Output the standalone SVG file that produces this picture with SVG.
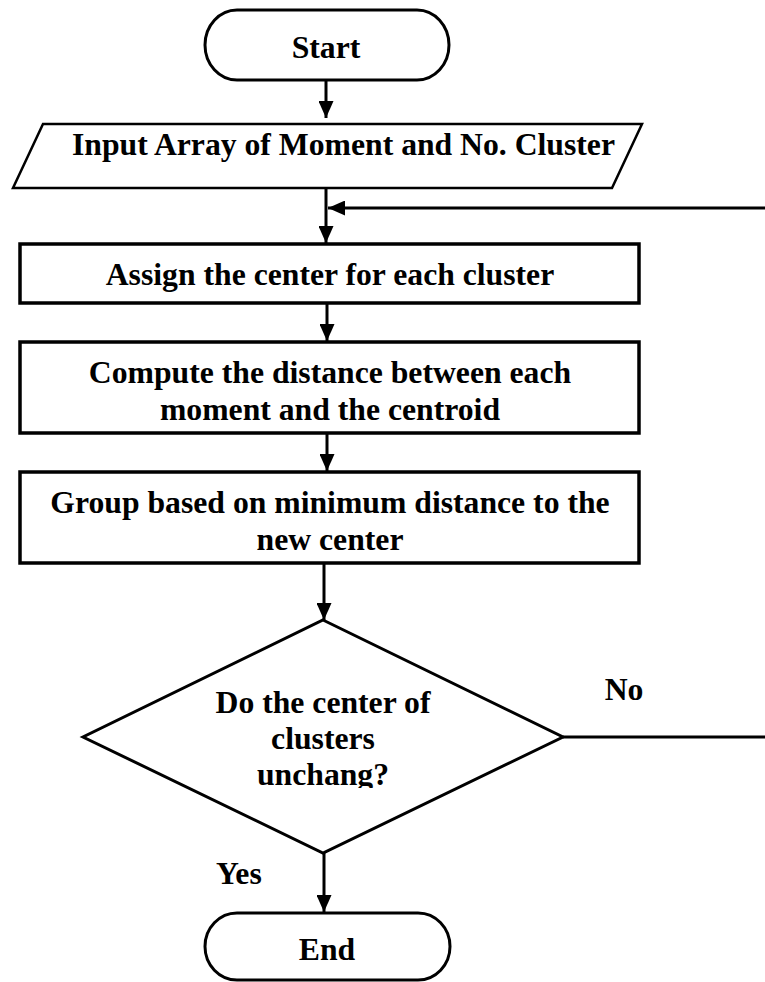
<svg xmlns="http://www.w3.org/2000/svg" width="765" height="982" viewBox="0 0 765 982">
  <style>
    .lbl { font-family: "Liberation Serif", "Times New Roman", serif; font-weight: bold; font-size: 31.7px; fill: #000; }
    .mid { text-anchor: middle; }
    .term { fill: #fff; stroke: #000; stroke-width: 3; }
    .io { fill: #fff; stroke: #000; stroke-width: 2.5; }
    .proc { fill: #fff; stroke: #000; stroke-width: 3.5; }
    .dec { fill: #fff; stroke: #000; stroke-width: 3; }
    .edge { fill: none; stroke: #000; stroke-width: 3; }
  </style>
  <defs>
    <marker id="arrow" markerUnits="userSpaceOnUse" markerWidth="17" markerHeight="15" refX="17" refY="7.5" orient="auto">
      <path d="M0,0 L17,7.5 L0,15 Z" fill="#000"/>
    </marker>
    <clipPath id="decClip">
      <rect x="0" y="600" width="765" height="188"/>
    </clipPath>
  </defs>

  <rect width="765" height="982" fill="#fff"/>

  <!-- connectors -->
  <g id="connectors">
    <line class="edge" x1="326" y1="80" x2="326" y2="118" marker-end="url(#arrow)"/>
    <line class="edge" x1="326" y1="188" x2="326" y2="243" marker-end="url(#arrow)"/>
    <line class="edge" x1="765" y1="208" x2="328" y2="208" marker-end="url(#arrow)"/>
    <line class="edge" x1="327" y1="303" x2="327" y2="341" marker-end="url(#arrow)"/>
    <line class="edge" x1="327" y1="433" x2="327" y2="471" marker-end="url(#arrow)"/>
    <line class="edge" x1="324" y1="563" x2="324" y2="620" marker-end="url(#arrow)"/>
    <line class="edge" x1="563" y1="737" x2="765" y2="737"/>
    <line class="edge" x1="324" y1="853" x2="324" y2="912" marker-end="url(#arrow)"/>
    <text class="lbl mid" x="624" y="700">No</text>
    <text class="lbl" x="216" y="884">Yes</text>
  </g>

  <g id="start">
    <rect class="term" x="205" y="10" width="244" height="70" rx="32" ry="35"/>
    <text class="lbl mid" x="326" y="58">Start</text>
  </g>

  <g id="input">
    <polygon class="io" points="43,124 642,124 612,188 13,188"/>
    <text class="lbl" x="72" y="155" textLength="543" lengthAdjust="spacing">Input Array of Moment and No. Cluster</text>
  </g>

  <g id="assign">
    <rect class="proc" x="20" y="244" width="619" height="59"/>
    <text class="lbl mid" x="330" y="285">Assign the center for each cluster</text>
  </g>

  <g id="compute">
    <rect class="proc" x="20" y="342" width="619" height="91"/>
    <text class="lbl mid" x="330" y="383">Compute the distance between each</text>
    <text class="lbl mid" x="330" y="420">moment and the centroid</text>
  </g>

  <g id="group">
    <rect class="proc" x="20" y="472" width="619" height="91"/>
    <text class="lbl mid" x="330" y="513">Group based on minimum distance to the</text>
    <text class="lbl mid" x="330" y="550">new center</text>
  </g>

  <g id="decision">
    <polygon class="dec" points="323,620 563,737 323,853 83,737"/>
    <g clip-path="url(#decClip)">
      <text class="lbl mid" x="323" y="713">Do the center of</text>
      <text class="lbl mid" x="323" y="749">clusters</text>
      <text class="lbl mid" x="323" y="785">unchang?</text>
    </g>
  </g>

  <g id="end">
    <rect class="term" x="205" y="913" width="245" height="67" rx="32" ry="34"/>
    <text class="lbl mid" x="327" y="960">End</text>
  </g>
</svg>
